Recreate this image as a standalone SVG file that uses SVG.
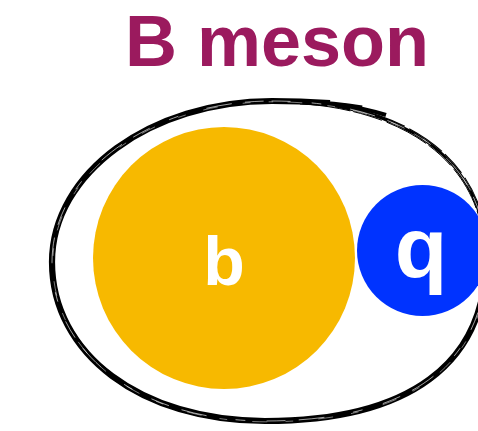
<svg xmlns="http://www.w3.org/2000/svg" width="478" height="431" viewBox="0 0 478 431">
<style>
.lbl{font-family:"Liberation Sans",Arial,sans-serif;font-weight:bold;text-anchor:middle;fill:#ffffff}
.sk{fill:none;stroke:#000;stroke-linejoin:round}
.streak{fill:none;stroke:#fff;stroke-linecap:round}
</style>
<defs>
<path id="shell" d="M272,101 C405,101 486,161 486,258 C486,364 409,421 265,421 C141,421 52,354 52,262 C52,173 151,101 272,101 Z"/>
</defs>
<rect width="478" height="431" fill="#ffffff"/>
<text x="277" y="66" font-family="'Liberation Sans',Arial,sans-serif" font-weight="bold" font-size="72" text-anchor="middle" fill="#9B1A5E">B meson</text>
<g id="meson-outline">
<use href="#shell" class="sk" stroke-width="3"/>
<path class="sk" d="M486,258 C486,364 409,421 265,421 C141,421 52,354 52,262 C52,173 151,101 272,101 C295,101 315,102 330,103" stroke-width="6.2"/>
<path class="sk" d="M300,102 C325,103 345,105 362,108" stroke-width="5.2"/>
<path class="sk" d="M340,105 C355,107 370,110 386,115" stroke-width="4.2"/>
<path class="streak" d="M418,130 C425,134 432,138 438,142" stroke-width="4.5"/>
<use href="#shell" class="sk" stroke-width="1.1" stroke-dasharray="40 4 25 6 60 5" transform="translate(1.5,-1.2)"/>
<use href="#shell" class="sk" stroke-width="1" stroke-dasharray="30 5 45 3" transform="translate(-1.2,1.5)"/>
<use href="#shell" class="streak" stroke-width="0.7" stroke-dasharray="18 22 9 30 25 14" opacity="0.9"/>
<use href="#shell" class="streak" stroke-width="0.6" stroke-dasharray="7 19 14 26" stroke-dashoffset="11" transform="translate(0.8,0.8)" opacity="0.8"/>
</g>
<g id="b-quark">
<circle cx="224" cy="258" r="131" fill="#F7B900"/>
<text class="lbl" x="224" y="285" font-size="68">b</text>
</g>
<g id="q-quark">
<circle cx="422.5" cy="250.5" r="65.5" fill="#0033FF"/>
<text class="lbl" x="421" y="277" font-size="86">q</text>
</g>
</svg>
